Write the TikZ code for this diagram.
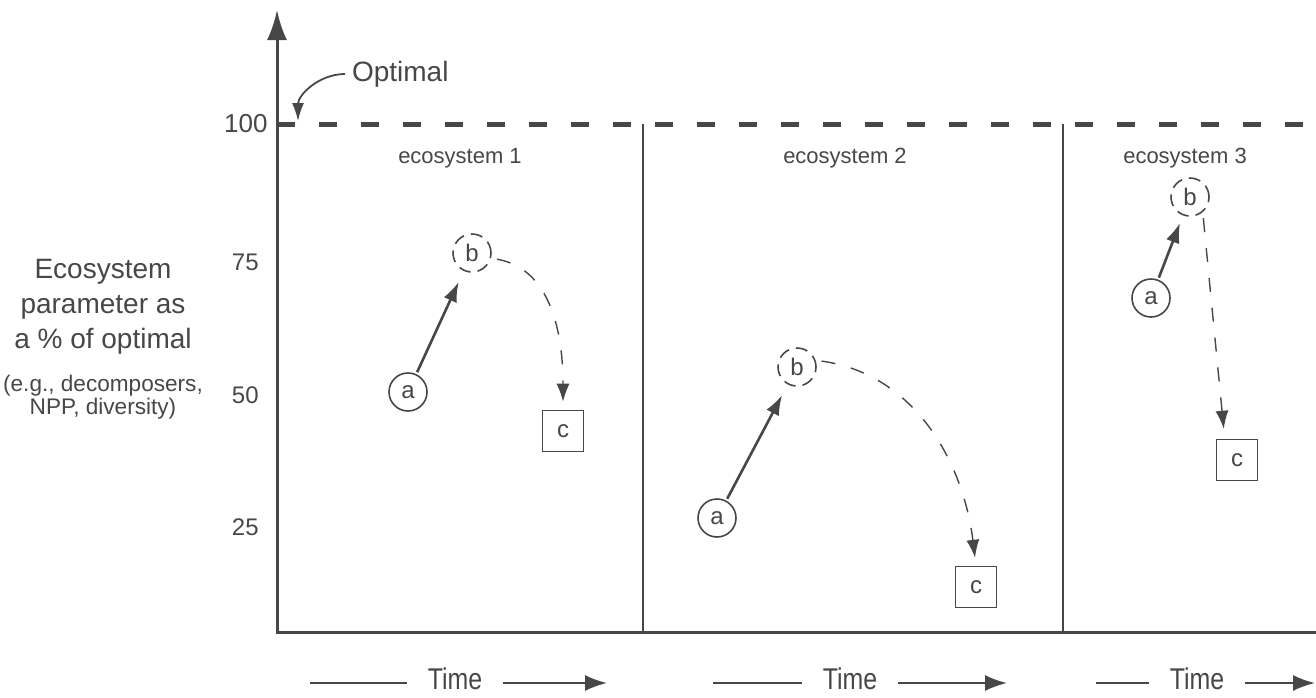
\documentclass[tikz,border=0pt]{standalone}
\usepackage{fontspec}
\setmainfont{Liberation Sans}
\usetikzlibrary{positioning}
\usetikzlibrary{arrows.meta}
\definecolor{ink}{gray}{0.28}

\begin{document}
\begin{tikzpicture}[x=0.5pt, y=-0.5pt, every node/.style={text=ink},
	state/.style={circle, draw=ink, line width=0.8pt, minimum size=19pt, inner sep=0pt, font=\fontsize{12}{14}\selectfont},
	peak/.style={state, dash pattern=on 6pt off 3.5pt},
	stop/.style={rectangle, draw=ink, line width=0.8pt, minimum size=20.5pt, inner sep=0pt, font=\fontsize{12}{14}\selectfont},
	rise/.style={draw=ink, line width=1.3pt, -{Latex[length=10pt, width=7pt]}, shorten <=1pt, shorten >=6pt},
	fall/.style={draw=ink, line width=0.7pt, dash pattern=on 7pt off 8pt, -{Latex[length=9pt, width=6.5pt]}, shorten <=3pt, shorten >=4pt},
	eco/.style={font=\fontsize{11}{13}\selectfont},
	tick/.style={font=\fontsize{12}{14}\selectfont, anchor=east, inner sep=0pt},
	timelbl/.style={font=\fontsize{15}{17}\selectfont, anchor=base, inner xsep=10pt, inner ysep=0pt},
	timeline/.style={draw=ink, line width=1pt}]
	\useasboundingbox (0,0) rectangle (1316,697);
	\coordinate (o) at (277,632);
	\coordinate (ytop) at (277,10);
	\coordinate (xend) at (1316,632);
	\coordinate (opt0) at (277,124);
	\coordinate (opt1) at (1316,124);
	\draw[ink, line width=1.5pt, {Latex[length=15pt, width=10pt]}-] (ytop) -- (o) -- (xend);
	\draw[ink, line width=2.5pt, dash pattern=on 9pt off 12pt] (opt0) -- (opt1);
	\coordinate (d1top) at (643,124);
	\coordinate (d1bot) at (643,632);
	\coordinate (d2top) at (1063,124);
	\coordinate (d2bot) at (1063,632);
	\draw[ink, line width=0.9pt] (d1top) -- (d1bot);
	\draw[ink, line width=0.9pt] (d2top) -- (d2bot);
	\node[tick, font=\fontsize{13}{15}\selectfont] (t100) at (268,124) {100};
	\node[tick] (t75) at (259,262) {75};
	\node[tick] (t50) at (259,395) {50};
	\node[tick] (t25) at (259,527) {25};
	\node[font=\fontsize{14}{17.5}\selectfont, align=center] (ylab) at (103,307) {Ecosystem\\parameter as\\a \% of optimal};
	\node[font=\fontsize{11.3}{11.5}\selectfont, align=center, below=3pt of ylab] (ylabsub) {(e.g., decomposers,\\NPP, diversity)};
	\node[font=\fontsize{14}{17}\selectfont, anchor=west] (opt) at (345,74) {Optimal};
	\coordinate (optpt) at (298,121);
	\draw[ink, line width=0.9pt, -{Latex[length=9pt, width=6pt]}] (opt.west) to[out=180, in=90] (optpt);
	\node[eco] (eco1) at (460,158) {ecosystem 1};
	\node[eco] (eco2) at (845,158) {ecosystem 2};
	\node[eco] (eco3) at (1185,158) {ecosystem 3};
	\node[state] (a1) at (408,392) {a};
	\node[peak] (b1) at (472,253) {b};
	\node[stop] (c1) at (563,431) {c};
	\draw[rise] (a1) -- (b1);
	\draw[fall] (b1.-15) to[out=-10, in=90] (c1.north);
	\node[state] (a2) at (717,518) {a};
	\node[peak] (b2) at (797,367) {b};
	\node[stop] (c2) at (976,587) {c};
	\draw[rise] (a2) -- (b2);
	\draw[fall] (b2.20) to[out=-8, in=97] (c2.north);
	\node[state] (a3) at (1151,298) {a};
	\node[peak] (b3) at (1190,197) {b};
	\node[stop] (c3) at (1237,460) {c};
	\draw[rise, shorten >=4pt] (a3) -- (b3);
	\draw[fall, shorten >=5pt] (b3.-50) -- (c3.120);
	\node[timelbl] (time1) at (455,689) {\scalebox{0.83}[1]{Time}};
	\node[timelbl] (time2) at (850,689) {\scalebox{0.83}[1]{Time}};
	\node[timelbl] (time3) at (1197,689) {\scalebox{0.83}[1]{Time}};
	\coordinate (s1) at (310,683);
	\coordinate (e1) at (607,683);
	\coordinate (s2) at (713,683);
	\coordinate (e2) at (1007,683);
	\coordinate (s3) at (1096,683);
	\coordinate (e3) at (1315,683);
	\draw[timeline] (s1) -- (s1 -| time1.west);
	\draw[timeline, -{Latex[length=11pt, width=8pt]}] (e1 -| time1.east) -- (e1);
	\draw[timeline] (s2) -- (s2 -| time2.west);
	\draw[timeline, -{Latex[length=11pt, width=8pt]}] (e2 -| time2.east) -- (e2);
	\draw[timeline] (s3) -- (s3 -| time3.west);
	\draw[timeline, -{Latex[length=11pt, width=8pt]}] (e3 -| time3.east) -- (e3);
\end{tikzpicture}
\end{document}
